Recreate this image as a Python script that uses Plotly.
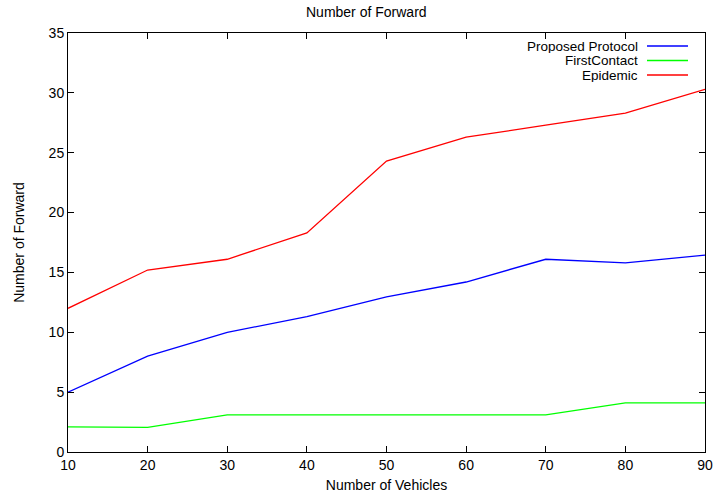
import plotly.graph_objects as go

vehicles = [10, 20, 30, 40, 50, 60, 70, 80, 90]
proposed = [5.0, 8.0, 10.0, 11.3, 12.95, 14.2, 16.1, 15.8, 16.45]
first_contact = [2.1, 2.05, 3.1, 3.1, 3.12, 3.1, 3.1, 4.1, 4.1]
epidemic = [12.0, 15.2, 16.1, 18.3, 24.3, 26.3, 27.3, 28.3, 30.3]
names = ["Proposed Protocol", "FirstContact", "Epidemic"]
colors = ["#0000ff", "#00ff00", "#ff0000"]
series = [proposed, first_contact, epidemic]

font = "Liberation Sans, Arial, sans-serif"
fs = 14
fig = go.Figure()
for n, c, s in zip(names, colors, series):
    fig.add_trace(go.Scatter(x=vehicles, y=s, mode="lines", name=n,
                             line=dict(color=c, width=1.3), showlegend=False))

# gnuplot-style legend: text right-aligned, sample line to the right
for i, (n, c) in enumerate(zip(names, colors)):
    ypix = 46 + i * 14.5
    yp = 1 - (ypix - 33) / (452 - 33)
    xr = (640 - 68) / (705 - 68)
    fig.add_annotation(xref="paper", yref="paper", x=xr, y=yp, text=n,
                       showarrow=False, xanchor="right", yanchor="middle",
                       font=dict(family=font, size=13.5, color="black"),
                       height=14)
    fig.add_shape(type="line", xref="paper", yref="paper",
                  x0=(647 - 68) / 637, x1=(688 - 68) / 637, y0=yp, y1=yp,
                  line=dict(color=c, width=1.3))

fig.update_layout(
    width=714, height=495,
    margin=dict(l=68, r=9, t=33, b=43),
    paper_bgcolor="white", plot_bgcolor="white",
    font=dict(family=font, size=fs, color="black"),
    title=dict(text="Number of Forward", x=0.513, xanchor="center", y=0.975, yanchor="middle",
               font=dict(family=font, size=fs)),
    xaxis=dict(range=[10, 90], tickvals=vehicles, ticks="inside", ticklen=6,
               tickcolor="black", showline=True, linecolor="black", linewidth=1,
               mirror="ticks", showgrid=False, zeroline=False, automargin=False,
               title=dict(text="Number of Vehicles", standoff=8, font=dict(size=fs)),
               tickfont=dict(size=fs)),
    yaxis=dict(range=[0, 35], dtick=5, ticks="inside", ticklen=6,
               tickcolor="black", showline=True, linecolor="black", linewidth=1,
               mirror="ticks", showgrid=False, zeroline=False, automargin=False,
               title=dict(text="Number of Forward", standoff=20, font=dict(size=fs)),
               tickfont=dict(size=fs)),
)
fig.write_html("out.html")
